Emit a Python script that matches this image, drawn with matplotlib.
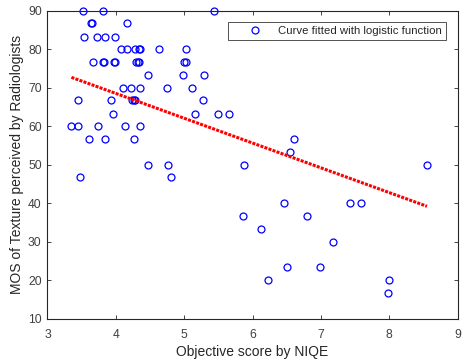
import matplotlib
matplotlib.use('Agg')
import matplotlib.pyplot as plt

# NIQE score vs. MOS of texture
niqe = [3.52, 3.81, 5.44,
        3.63, 3.65, 4.17,
        3.53, 3.73, 3.84, 3.99,
        4.08, 4.17, 4.28, 4.34, 4.36, 4.63, 5.02,
        3.67, 3.81, 3.83, 3.97, 3.99, 4.29, 4.32, 4.34, 5.00, 5.02,
        4.47, 4.98, 5.29,
        4.11, 4.22, 4.36, 4.75, 5.11,
        3.45, 3.93, 4.24, 4.26, 4.28, 5.27,
        3.96, 5.15, 5.50, 5.66,
        3.35, 3.44, 3.74, 4.13, 4.35,
        3.60, 3.84, 4.26, 6.60,
        6.55,
        4.47, 4.76, 5.87, 8.55,
        3.47, 4.81,
        6.46, 7.42, 7.58,
        5.86, 6.79,
        6.12,
        7.18,
        6.50, 6.98,
        6.22, 7.99,
        7.98]
mos = [90, 90, 90,
       86.7, 86.7, 86.7,
       83.3, 83.3, 83.3, 83.3,
       80, 80, 80, 80, 80, 80, 80,
       76.7, 76.7, 76.7, 76.7, 76.7, 76.7, 76.7, 76.7, 76.7, 76.7,
       73.3, 73.3, 73.3,
       70, 70, 70, 70, 70,
       66.7, 66.7, 66.7, 66.7, 66.7, 66.7,
       63.3, 63.3, 63.3, 63.3,
       60, 60, 60, 60, 60,
       56.7, 56.7, 56.7, 56.7,
       53.3,
       50, 50, 50, 50,
       46.7, 46.7,
       40, 40, 40,
       36.7, 36.7,
       33.3,
       30,
       23.3, 23.3,
       20, 20,
       16.7]

# fitted curve end points
fit_x = [3.35, 8.55]
fit_y = [72.7, 39.2]

plt.rcParams['font.family'] = ['Liberation Sans', 'DejaVu Sans']

fig = plt.figure(figsize=(4.62, 3.64), dpi=100)
ax = fig.add_axes([0.1028, 0.1245, 0.888, 0.846])

ax.plot(niqe, mos, 'o', linestyle='none', markersize=5, markerfacecolor='none',
        markeredgecolor='#0000ff', markeredgewidth=0.9, clip_on=False,
        label='Curve fitted with logistic function')
ax.plot(fit_x, fit_y, color='red', linestyle=(0, (1, 0.4)), linewidth=2.2)

ax.set_xlim(3, 9)
ax.set_ylim(10, 90)
ax.set_xticks(range(3, 10))
ax.set_yticks(range(10, 91, 10))

for s in ax.spines.values():
    s.set_color('#262626')
    s.set_linewidth(0.8)
ax.tick_params(direction='in', length=3, width=0.6, color='#262626',
               labelcolor='#404040', labelsize=8.7, top=True, right=True)
ax.tick_params(axis='x', pad=7.5)
ax.tick_params(axis='y', pad=4.2)

ax.set_xlabel('Objective score by NIQE', fontsize=10, color='#262626', labelpad=2.5)
ax.set_ylabel('MOS of Texture perceived by Radiologists', fontsize=10,
              color='#262626', labelpad=3)

leg = ax.legend(loc='upper right', bbox_to_anchor=(0.971, 0.964), fontsize=8.2,
                frameon=True, fancybox=False, handlelength=4.0, handletextpad=0.05,
                borderpad=0.35, borderaxespad=0)
leg.get_frame().set_edgecolor('#262626')
leg.get_frame().set_linewidth(0.7)
for t in leg.get_texts():
    t.set_color('#262626')

plt.savefig('out.png', dpi=100)
print('Saved: out.png')
